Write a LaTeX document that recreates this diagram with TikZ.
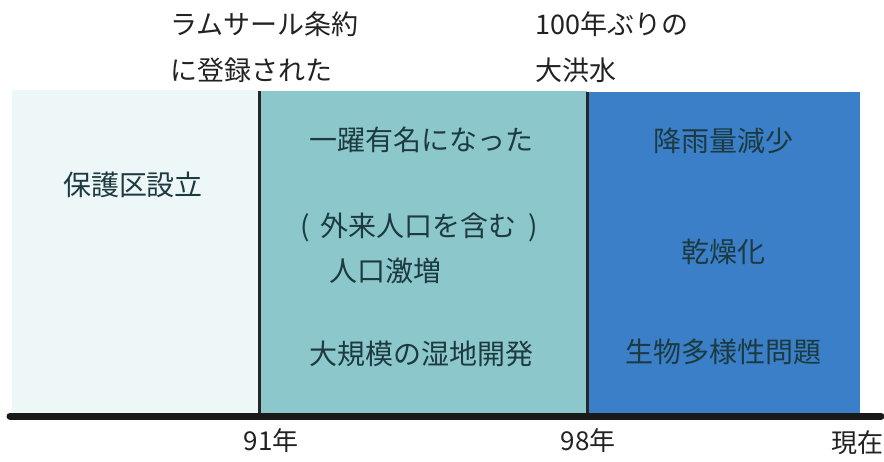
\documentclass[tikz,border=0pt]{standalone}
\usepackage{fontspec}
\setmainfont{Noto Sans CJK JP}
\definecolor{paleC}{HTML}{EEF7F7}
\definecolor{tealC}{HTML}{8CC7CC}
\definecolor{blueC}{HTML}{3A7FC8}
\definecolor{txtC}{HTML}{1C3A40}
\definecolor{topC}{HTML}{222222}
\begin{document}
\begin{tikzpicture}[x=1pt,y=-1pt,
  lbl/.style={font=\fontsize{28}{32}\selectfont, text=txtC, inner sep=0pt},
  toplbl/.style={font=\fontsize{27}{32}\selectfont, text=topC, inner sep=0pt, anchor=west},
  yearlbl/.style={font=\fontsize{26}{30}\selectfont, text=topC, inner sep=0pt}]
\useasboundingbox (0,0) rectangle (884,462);
\fill[white] (0,0) rectangle (884,462);
% panels
\fill[paleC] (12,90) rectangle (259,414);
\fill[tealC] (259,91) rectangle (587,414);
\fill[blueC] (587,92) rectangle (860,414);
\draw[line width=3pt, black!85] (259,91) -- (259,414);
\draw[line width=3pt, black!85] (587,92) -- (587,414);
% timeline
\coordinate (t0) at (10,416);
\coordinate (t1) at (881,416);
\draw[line width=7pt, line cap=round, black!90] (t0) -- (t1);
% top labels
\node[toplbl] (ram1) at (170,24) {ラムサール条約};
\node[toplbl] (ram2) at (170,70) {に登録された};
\node[toplbl] (fl1) at (535,24) {100年ぶりの};
\node[toplbl] (fl2) at (535,70) {大洪水};
% panel texts
\node[lbl] (p1) at (133,185) {保護区設立};
\node[lbl] (m1) at (421,140) {一躍有名になった};
\node[lbl] (m2) at (419,227) {(\hspace{0.4em}外来人口を含む\hspace{0.4em})};
\node[lbl] (m3) at (385,271) {人口激増};
\node[lbl] (m4) at (421,354) {大規模の湿地開発};
\node[lbl] (r1) at (723,141) {降雨量減少};
\node[lbl] (r2) at (723,252) {乾燥化};
\node[lbl] (r3) at (723,352) {生物多様性問題};
% year labels
\node[yearlbl] (y91) at (271,441) {91年};
\node[yearlbl] (y98) at (588,441) {98年};
\node[yearlbl] (ynow) at (857,443) {現在};
\end{tikzpicture}
\end{document}
